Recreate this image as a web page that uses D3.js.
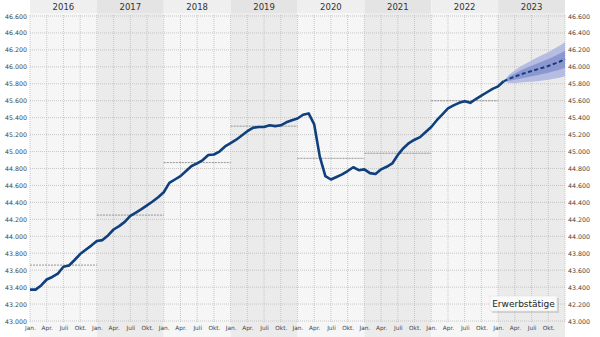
<!DOCTYPE html>
<html><head><meta charset="utf-8">
<script src="https://cdn.jsdelivr.net/npm/d3@7"></script>
<style>body{margin:0;background:#fff}svg{display:block}text{font-family:"DejaVu Sans",sans-serif}</style>
</head><body>
<svg id="c" width="600" height="337"></svg>
<script>
const years = [2016, 2017, 2018, 2019, 2020, 2021, 2022, 2023];
const quarterLabels = ["Jan.", "Apr.", "Juli", "Okt."];
const yTicks = [43000,43200,43400,43600,43800,44000,44200,44400,44600,44800,45000,45200,45400,45600,45800,46000,46200,46400,46600];
const rightTickLabels = ["43.000","42.200","43.400","43.600","43.800","44.000","44.200","44.400","44.600","44.800","45.000","45.200","45.400","45.600","45.800","46.000","46.200","46.400","46.600"];
// monthly values (thousand persons), Jan 2016 .. Feb 2023
const actual = [43370,43370,43420,43490,43520,43560,43640,43655,43720,43790,43840,43890,
  43945,43955,44010,44080,44120,44170,44240,44280,44320,44365,44410,44460,
  44520,44630,44670,44710,44770,44830,44860,44900,44960,44965,45000,45060,
  45100,45140,45190,45240,45280,45290,45290,45310,45300,45310,45345,45370,
  45390,45435,45450,45320,44940,44710,44670,44700,44730,44770,44815,44780,
  44790,44745,44735,44790,44820,44860,44960,45040,45100,45140,45170,45230,
  45290,45370,45440,45510,45545,45575,45595,45575,45620,45660,45700,45740,
  45770,45830];
// forecast Feb 2023 .. Jan 2024
const forecast = [45830,45860,45885,45910,45930,45950,45970,45990,46010,46035,46060,46090];
const outerHi = [45830,45910,45960,46005,46040,46075,46110,46142,46173,46210,46248,46290];
const outerLo = [45830,45810,45810,45815,45820,45825,45830,45838,45847,45860,45872,45890];
const innerHi = [45830,45885,45922,45957,45985,46012,46040,46066,46091,46122,46154,46190];
const innerLo = [45830,45835,45848,45863,45875,45888,45900,45914,45929,45948,45966,45990];
const annualAvg = [43660,44250,44870,45300,44920,44980,45600];

const svg = d3.select("#c");
const x = d3.scaleLinear().domain([0,96]).range([30,565]);
const y = d3.scaleLinear().domain([43000,46600]).range([321,16]);
const headerH = 13, plotBottom = 322;
const fmt = d3.formatLocale({decimal:",",thousands:".",grouping:[3],currency:["","€"]}).format(",d");

// year bands
years.forEach((yr,i)=>{
  const x0 = x(i*12), x1 = x((i+1)*12);
  const dark = i%2===1;
  svg.append("rect").attr("x",x0).attr("y",0).attr("width",x1-x0).attr("height",headerH)
    .attr("fill",dark?"#e4e4e4":"#efefef");
  svg.append("rect").attr("x",x0).attr("y",headerH).attr("width",x1-x0).attr("height",337-headerH)
    .attr("fill",dark?"#ebebeb":"#f6f6f6");
  svg.append("text").attr("x",(x0+x1)/2).attr("y",9.5).attr("text-anchor","middle")
    .attr("font-size",8.5).attr("fill","#333").text(yr);
});

// gridlines
const gx = d3.range(0,97,3);
svg.append("g").selectAll("line").data(gx).join("line")
  .attr("x1",d=>x(d)).attr("x2",d=>x(d)).attr("y1",headerH+2).attr("y2",plotBottom)
  .attr("stroke","#bbbbbb").attr("stroke-width",0.8).attr("stroke-dasharray","1,1");
svg.append("g").selectAll("line").data(yTicks).join("line")
  .attr("x1",x(0)).attr("x2",x(96)).attr("y1",d=>y(d)).attr("y2",d=>y(d))
  .attr("stroke","#bbbbbb").attr("stroke-width",0.8).attr("stroke-dasharray","1,1");

// annual averages
svg.append("g").selectAll("line").data(annualAvg).join("line")
  .attr("x1",(d,i)=>x(i*12)).attr("x2",(d,i)=>x((i+1)*12))
  .attr("y1",d=>y(d)).attr("y2",d=>y(d))
  .attr("stroke","#8a8a8a").attr("stroke-width",0.9).attr("stroke-dasharray","2,1");

// axes
const yl = svg.append("g").attr("transform","translate(27,0)")
  .call(d3.axisLeft(y).tickValues(yTicks).tickFormat(fmt).tickSize(0).tickPadding(0));
yl.select(".domain").remove();
yl.selectAll("text").attr("font-size",6.3).attr("fill","#444").attr("font-family","DejaVu Sans");
const yr = svg.append("g").attr("transform","translate(568,0)")
  .call(d3.axisRight(y).tickValues(yTicks).tickFormat((d,i)=>rightTickLabels[i]).tickSize(0).tickPadding(0));
yr.select(".domain").remove();
yr.selectAll("text").attr("font-size",6.3).attr("fill","#444").attr("font-family","DejaVu Sans");
const xa = svg.append("g").attr("transform",`translate(0,${plotBottom+4})`)
  .call(d3.axisBottom(x).tickValues(d3.range(0,96,3)).tickFormat(d=>quarterLabels[(d/3)%4]).tickSize(0).tickPadding(0));
xa.select(".domain").remove();
xa.selectAll("text").attr("font-size",5.8).attr("fill","#444").attr("font-family","DejaVu Sans");

// forecast bands
const fIdx = forecast.map((d,i)=>85+i);
const area = (hi,lo)=>d3.area().x((d,i)=>x(fIdx[i])).y0((d,i)=>y(lo[i])).y1((d,i)=>y(hi[i]))(hi);
svg.append("path").attr("d",area(outerHi,outerLo)).attr("fill","#b0b8e2").attr("opacity",0.9);
svg.append("path").attr("d",area(innerHi,innerLo)).attr("fill","#8590cc").attr("opacity",0.85);

// lines
const line = d3.line().x((d,i)=>x(i)).y(d=>y(d));
svg.append("path").attr("d",line(actual)).attr("fill","none").attr("stroke","#0f3f7d")
  .attr("stroke-width",2.6).attr("stroke-linejoin","round");
svg.append("path").attr("d",d3.line().x((d,i)=>x(fIdx[i])).y(d=>y(d))(forecast))
  .attr("fill","none").attr("stroke","#0f3f7d").attr("stroke-width",2).attr("stroke-dasharray","4,2.5");

// legend
const lg = svg.append("g");
lg.append("rect").attr("x",491).attr("y",297).attr("width",67).attr("height",15)
  .attr("fill","#9a9a9a").attr("opacity",0.35).attr("transform","translate(1,1)");
lg.append("rect").attr("x",490).attr("y",296).attr("width",67).attr("height",15)
  .attr("fill","#fafafa").attr("stroke","#dddddd").attr("stroke-width",0.5);
lg.append("text").attr("x",523.5).attr("y",307).attr("text-anchor","middle")
  .attr("font-family","'Open Sans',sans-serif").attr("font-size",9).attr("fill","#222").text("Erwerbstätige");
</script>
</body></html>
